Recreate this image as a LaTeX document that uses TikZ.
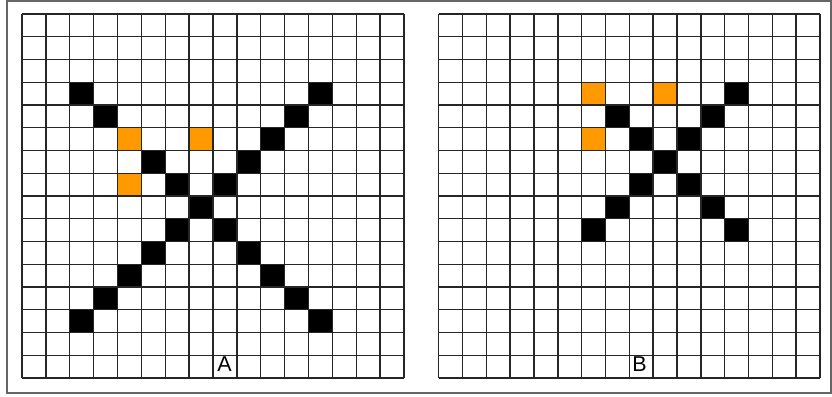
\documentclass[tikz,border=0pt]{standalone}
\usepackage{fontspec}
\setmainfont{Liberation Sans}
\definecolor{cellorange}{HTML}{FF9900}
\tikzset{
  gridline/.style={draw=black!85, line width=1.4pt},
  framebox/.style={draw=black!60, line width=1.1pt},
  blackcell/.style={fill=black},
  orangecell/.style={fill=cellorange},
  lbl/.style={anchor=base, inner sep=0pt, font=\fontsize{21.5}{21.5}\selectfont}
}
\begin{document}
\begin{tikzpicture}[x=1pt,y=-1pt]
\useasboundingbox (0,0) rectangle (832,396);
\draw[framebox] (7,1) rectangle (831,393);
% Grid A
\begin{scope}[shift={(22,14)}, x=23.875pt, y=-22.75pt]
  \foreach \c/\r in {2/3,3/4,5/6,6/7,7/8,8/9,9/10,10/11,11/12,12/13,
                     12/3,11/4,10/5,9/6,8/7,6/9,5/10,4/11,3/12,2/13}
    \fill[blackcell] (\c,\r) rectangle ++(1,1);
  \foreach \c/\r in {4/5,7/5,4/7}
    \fill[orangecell] (\c,\r) rectangle ++(1,1);
  \foreach \i in {0,...,16} {
    \draw[gridline] (\i,0) -- (\i,16);
    \draw[gridline] (0,\i) -- (16,\i);
  }
  \node[lbl] (labA) at (8.48,15.72) {A};
\end{scope}
% Grid B
\begin{scope}[shift={(438.7,14)}, x=23.83pt, y=-22.75pt]
  \foreach \c/\r in {12/3,7/4,11/4,8/5,10/5,9/6,8/7,10/7,7/8,11/8,6/9,12/9}
    \fill[blackcell] (\c,\r) rectangle ++(1,1);
  \foreach \c/\r in {6/3,9/3,6/5}
    \fill[orangecell] (\c,\r) rectangle ++(1,1);
  \foreach \i in {0,...,16} {
    \draw[gridline] (\i,0) -- (\i,16);
    \draw[gridline] (0,\i) -- (16,\i);
  }
  \node[lbl] (labB) at (8.43,15.72) {B};
\end{scope}
\end{tikzpicture}
\end{document}
